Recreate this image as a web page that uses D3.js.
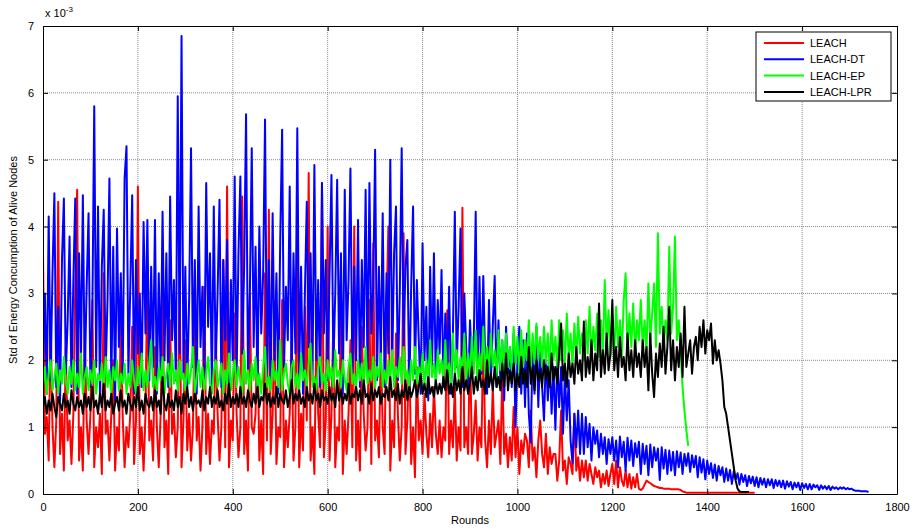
<!DOCTYPE html>
<html lang="en">
<head>
  <meta charset="UTF-8">
  <title>Std of Energy Consumption</title>
  <script src="https://d3js.org/d3.v7.min.js"></script>
  <style>
    body { margin: 0; background: #fff; font-family: "Liberation Sans", Arial, sans-serif; }
    .axis text { font-size: 11px; fill: #000; font-family: "Liberation Sans", Arial, sans-serif; }
    .axis path, .axis line { stroke: #000; }
    .grid line { stroke: #888; stroke-dasharray: 1,1; }
  </style>
</head>
<body>
  <div id="chart"></div>
  <script>
    // rounds between two samples
    const step = 4;
    const xTicks = [0, 200, 400, 600, 800, 1000, 1200, 1400, 1600, 1800];
    const yTicks = [0, 1, 2, 3, 4, 5, 6, 7];
    const seriesNames = ["LEACH", "LEACH-DT", "LEACH-EP", "LEACH-LPR"];
    const seriesColors = ["#ff0000", "#0000ff", "#00ff00", "#000000"];

    // values in units of 1e-3, one every 4 rounds (each row = 60 rounds)
    const leach = [
      3.6, 0.9, 1.15, 0.5, 2.6, 1.0, 0.4, 1.1, 4.37, 0.6, 1.2, 0.35, 2.2, 0.8, 1.1,
      0.45, 1.2, 3.15, 4.55, 0.5, 1.0, 0.35, 2.4, 1.1, 0.6, 1.2, 2.9, 0.4, 1.0, 0.7,
      1.2, 0.3, 3.3, 0.9, 1.1, 0.5, 1.2, 2.0, 0.35, 1.0, 0.65, 2.7, 1.15, 0.4, 1.0,
      0.7, 1.2, 2.5, 0.45, 1.1, 4.6, 0.6, 1.0, 0.35, 1.2, 3.4, 0.8, 1.1, 0.5, 2.2,
      1.0, 0.4, 1.2, 3.0, 0.7, 1.1, 0.3, 2.6, 0.9, 1.2, 0.55, 1.0, 3.2, 0.4, 1.1,
      2.3, 0.65, 1.2, 0.5, 1.0, 2.8, 0.8, 1.15, 0.35, 1.0, 3.1, 0.6, 1.2, 0.45, 1.1,
      0.9, 2.4, 1.2, 0.5, 1.0, 3.5, 0.7, 4.6, 0.4, 1.1, 0.8, 2.7, 1.2, 0.55, 1.0,
      4.45, 0.6, 1.1, 0.35, 3.0, 1.0, 0.9, 1.2, 2.5, 0.5, 1.1, 0.3, 3.3, 0.8, 4.25,
      0.6, 1.2, 2.6, 0.45, 1.0, 0.85, 2.9, 0.4, 1.1, 0.7, 1.2, 2.3, 0.5, 1.0, 3.75,
      0.4, 1.2, 0.65, 2.8, 1.1, 4.8, 0.5, 1.0, 0.3, 2.4, 1.2, 0.7, 4.65, 0.55, 1.1,
      4.0, 0.5, 1.2, 2.6, 0.4, 1.0, 0.8, 2.9, 0.3, 1.1, 0.6, 1.2, 2.3, 0.7, 4.0,
      0.5, 1.1, 0.35, 2.5, 1.2, 0.65, 1.0, 2.9, 0.45, 3.75, 0.8, 1.1, 0.55, 2.2, 1.0,
      0.6, 2.8, 4.0, 0.35, 1.1, 0.7, 2.4, 1.2, 0.5, 1.0, 3.9, 0.6, 1.1, 2.2, 0.45,
      1.0, 0.25, 1.9, 0.8, 1.1, 0.6, 1.5, 0.9, 0.55, 1.2, 0.7, 1.6, 0.9, 0.6, 1.1,
      0.55, 1.0, 0.8, 2.75, 0.6, 1.1, 0.7, 1.6, 0.5, 1.0, 0.65, 4.28, 0.7, 1.0, 0.6,
      2.3, 0.6, 0.9, 1.4, 0.5, 1.0, 0.7, 2.4, 0.8, 0.4, 1.1, 0.6, 1.6, 0.7, 0.9,
      1.1, 0.45, 1.8, 0.6, 0.9, 0.4, 0.85, 0.5, 1.3, 0.55, 1.0, 0.3, 0.8, 0.6, 0.9,
      0.8, 0.4, 1.25, 0.5, 0.7, 0.25, 0.8, 1.1, 0.6, 0.4, 0.9, 0.3, 0.7, 0.45, 0.6,
      0.6, 0.2, 0.5, 1.25, 0.35, 0.5, 0.15, 0.55, 0.45, 0.3, 1.2, 0.35, 0.55, 0.2, 0.5,
      0.25, 0.5, 0.2, 0.45, 0.3, 0.15, 0.4, 0.25, 0.35, 0.1, 0.3, 0.15, 0.35, 0.12, 0.3,
      0.45, 0.15, 0.5, 0.1, 0.4, 0.2, 0.12, 0.35, 0.1, 0.3, 0.08, 0.25, 0.1, 0.3, 0.08,
      0.06, 0.08, 0.14, 0.2, 0.18, 0.16, 0.14, 0.12, 0.11, 0.1, 0.09, 0.09, 0.08, 0.08, 0.08,
      0.08, 0.07, 0.07, 0.07, 0.07, 0.07, 0.06, 0.04, 0.03, 0.02, 0.02, 0.02, 0.02, 0.02, 0.02,
      0.02, 0.02, 0.02, 0.02, 0.02, 0.02, 0.02, 0.02, 0.02, 0.02, 0.02, 0.02, 0.02, 0.02, 0.02,
      0.02, 0.02, 0.02, 0.02, 0.02, 0.02, 0.02, 0.02, 0.02, 0.02, 0.02, 0.02, 0.02, 0.02, 0.02,
      0.02
    ];

    const leachDT = [
      1.9, 3.0, 1.5, 4.15, 1.7, 3.3, 4.5, 1.6, 2.8, 1.4, 3.5, 4.42, 1.8, 2.6, 3.85,
      1.6, 3.2, 4.42, 1.5, 3.6, 2.0, 4.47, 1.7, 3.1, 4.2, 1.6, 2.7, 5.8, 1.9, 4.3,
      1.5, 3.4, 4.25, 1.8, 2.9, 4.72, 1.6, 3.7, 1.4, 3.97, 2.2, 3.3, 1.7, 4.72, 5.2,
      1.8, 3.1, 4.47, 1.5, 3.5, 2.1, 3.0, 1.6, 4.07, 2.4, 4.1, 1.7, 3.4, 1.9, 4.1,
      1.5, 3.3, 1.8, 4.22, 2.0, 3.6, 1.6, 4.45, 2.3, 3.2, 1.7, 5.95, 2.1, 6.85, 1.8,
      3.4, 1.6, 2.9, 5.17, 1.9, 3.5, 1.5, 4.3, 2.2, 3.1, 1.7, 4.65, 2.5, 3.6, 1.6,
      4.3, 1.9, 3.0, 4.4, 1.6, 3.5, 2.3, 3.8, 1.5, 3.2, 2.0, 4.75, 1.7, 3.6, 4.75,
      2.1, 3.4, 5.68, 1.8, 3.0, 5.17, 2.2, 3.7, 1.6, 4.0, 2.4, 3.3, 5.6, 1.7, 3.5,
      1.6, 4.2, 2.0, 3.3, 1.5, 3.8, 5.45, 1.9, 3.1, 2.3, 4.6, 1.7, 3.6, 2.1, 5.47,
      1.8, 3.4, 1.5, 3.0, 4.37, 2.2, 3.6, 1.7, 4.92, 2.0, 3.2, 1.6, 4.65, 2.4, 3.5,
      1.7, 3.3, 4.77, 1.9, 3.0, 4.7, 2.1, 3.6, 1.5, 4.55, 2.3, 3.2, 4.87, 1.8, 3.4,
      2.0, 4.1, 1.6, 3.5, 2.2, 4.55, 1.8, 4.65, 2.4, 3.1, 5.15, 1.7, 3.4, 2.0, 4.2,
      1.6, 3.3, 2.1, 5.0, 1.9, 3.6, 4.3, 1.7, 3.0, 5.17, 2.2, 3.4, 3.8, 1.5, 3.1,
      4.3, 1.8, 3.2, 2.3, 1.5, 3.75, 2.0, 2.8, 1.4, 3.4, 1.9, 3.6, 1.6, 2.9, 2.1,
      3.35, 1.6, 2.7, 1.8, 3.1, 1.5, 2.4, 4.22, 1.9, 2.8, 3.97, 1.6, 3.0, 2.2, 1.5,
      2.6, 1.9, 2.3, 4.22, 1.6, 3.25, 1.8, 3.26, 2.0, 1.5, 2.9, 1.7, 2.5, 3.26, 1.6,
      2.6, 1.7, 2.3, 1.4, 2.5, 1.8, 2.2, 1.6, 2.4, 1.0, 2.0, 2.5, 1.5, 2.3, 1.3,
      2.4, 1.2, 0.77, 2.2, 1.5, 2.5, 1.3, 2.2, 1.6, 1.1, 2.1, 1.4, 2.0, 1.2, 1.9,
      0.96, 2.0, 1.3, 1.9, 0.9, 1.8, 1.1, 1.7, 0.8, 0.46, 1.2, 0.7, 1.25, 0.6, 1.2,
      0.6, 1.15, 0.7, 1.05, 0.5, 1.0, 0.75, 0.95, 0.55, 0.9, 0.6, 0.85, 0.45, 0.82, 0.6,
      0.85, 0.5, 0.8, 0.4, 0.86, 0.55, 0.78, 0.35, 0.84, 0.5, 0.8, 0.42, 0.76, 0.55, 0.78,
      0.3, 0.75, 0.45, 0.72, 0.28, 0.74, 0.4, 0.7, 0.5, 0.68, 0.21, 0.7, 0.38, 0.66, 0.3,
      0.65, 0.35, 0.63, 0.28, 0.64, 0.4, 0.62, 0.3, 0.6, 0.42, 0.61, 0.33, 0.58, 0.4, 0.57,
      0.25, 0.55, 0.32, 0.52, 0.22, 0.5, 0.3, 0.46, 0.24, 0.44, 0.2, 0.42, 0.28, 0.4, 0.18,
      0.38, 0.2, 0.36, 0.15, 0.34, 0.22, 0.31, 0.14, 0.3, 0.18, 0.28, 0.12, 0.27, 0.16, 0.26,
      0.12, 0.25, 0.1, 0.24, 0.14, 0.23, 0.1, 0.22, 0.13, 0.22, 0.09, 0.21, 0.12, 0.2, 0.1,
      0.2, 0.08, 0.19, 0.11, 0.18, 0.07, 0.17, 0.1, 0.17, 0.06, 0.16, 0.09, 0.15, 0.07, 0.15,
      0.07, 0.14, 0.1, 0.13, 0.06, 0.13, 0.08, 0.12, 0.07, 0.12, 0.06, 0.11, 0.08, 0.1, 0.07,
      0.1, 0.08, 0.1, 0.07, 0.09, 0.07, 0.08, 0.06, 0.05, 0.05, 0.05, 0.04, 0.04, 0.04, 0.04,
      0.03
    ];

    const leachEP = [
      1.6, 1.9, 1.5, 1.8, 2.0, 1.55, 1.75, 1.95, 1.5, 1.85, 1.65, 2.05, 1.7, 1.5, 1.9,
      1.65, 2.0, 1.55, 1.8, 1.6, 2.1, 1.5, 1.75, 1.9, 1.55, 1.85, 1.65, 2.0, 1.5, 1.8,
      1.7, 1.95, 1.55, 2.05, 1.6, 1.85, 1.5, 1.9, 1.7, 2.0, 1.55, 1.8, 1.65, 1.95, 1.5,
      1.8, 1.6, 2.0, 1.7, 1.5, 1.9, 1.65, 2.1, 1.55, 1.85, 1.6, 1.95, 2.3, 1.6, 1.75,
      1.55, 1.9, 1.7, 2.05, 1.5, 1.8, 1.95, 1.6, 2.1, 1.65, 1.85, 1.55, 2.0, 1.7, 1.8,
      1.55, 1.95, 1.65, 1.85, 2.2, 1.5, 1.75, 2.0, 1.6, 1.9, 1.55, 1.8, 2.05, 1.65, 1.5,
      1.85, 2.0, 1.6, 1.75, 1.95, 1.5, 1.85, 1.65, 2.1, 1.55, 1.8, 2.0, 1.6, 1.9, 1.7,
      1.5, 2.15, 1.65, 1.85, 1.55, 1.95, 1.7, 2.05, 1.6, 1.8, 1.5, 1.9, 2.2, 1.6, 1.75,
      1.55, 2.0, 1.7, 1.85, 1.6, 2.3, 1.55, 1.8, 1.95, 1.65, 1.5, 1.9, 2.0, 1.6, 1.8,
      1.55, 2.1, 1.7, 1.85, 1.6, 1.95, 2.25, 1.6, 1.75, 1.55, 1.9, 2.05, 1.65, 1.8, 1.55,
      2.0, 1.7, 1.9, 1.6, 2.15, 1.75, 1.85, 1.6, 2.0, 1.7, 1.55, 1.9, 2.1, 1.65, 1.8,
      1.6, 2.0, 1.7, 1.95, 1.55, 2.2, 1.65, 1.85, 1.7, 2.05, 1.6, 1.9, 1.75, 2.1, 1.6,
      1.85, 1.65, 2.0, 1.7, 2.15, 1.6, 1.9, 1.75, 2.05, 1.65, 2.2, 1.7, 1.85, 1.6, 2.0,
      1.7, 2.2, 1.65, 1.9, 1.75, 2.1, 1.6, 2.0, 1.7, 2.3, 1.75, 1.95, 1.65, 2.15, 1.8,
      2.0, 1.7, 2.3, 1.75, 1.95, 1.65, 2.4, 1.8, 2.15, 1.7, 2.05, 1.8, 2.4, 1.7, 2.1,
      1.75, 2.35, 1.8, 2.45, 1.7, 2.1, 1.85, 2.5, 1.75, 2.2, 1.8, 2.4, 1.9, 2.15, 1.75,
      2.45, 1.85, 2.3, 1.8, 2.4, 1.9, 2.2, 1.85, 2.5, 1.95, 2.35, 1.8, 2.45, 1.9, 2.3,
      2.0, 2.6, 1.85, 2.4, 1.95, 2.55, 2.0, 2.35, 1.9, 2.5, 1.95, 2.4, 1.85, 2.6, 2.0,
      2.35, 1.9, 2.6, 2.0, 2.45, 1.95, 2.7, 2.05, 2.4, 1.9, 2.55, 2.0, 2.65, 2.1, 2.4,
      2.0, 2.6, 2.1, 2.8, 2.0, 2.5, 2.15, 2.7, 2.05, 2.6, 2.1, 3.2, 2.2, 2.75, 2.05,
      2.5, 2.1, 2.8, 2.2, 2.6, 2.05, 2.9, 3.3, 2.1, 2.7, 2.2, 2.85, 2.1, 2.6, 2.3,
      2.9, 2.2, 2.6, 2.1, 3.15, 2.3, 2.7, 3.15, 2.2, 3.9, 2.4, 2.8, 2.2, 2.6, 2.3,
      3.7, 2.4, 2.8, 3.85, 2.3, 2.6, 2.1, 1.6, 1.25, 0.95, 0.72
    ];

    const leachLPR = [
      1.3, 1.45, 1.2, 1.4, 1.25, 1.5, 1.3, 1.15, 1.45, 1.35, 1.25, 1.5, 1.3, 1.4, 1.2,
      1.55, 1.35, 1.25, 1.45, 1.3, 1.4, 1.2, 1.5, 1.3, 1.45, 1.25, 1.6, 1.3, 1.4, 1.2,
      1.5, 1.3, 1.65, 1.25, 1.4, 1.3, 1.5, 1.2, 1.35, 1.45, 1.25, 1.55, 1.3, 1.4, 1.2,
      1.5, 1.35, 1.25, 1.45, 1.3, 1.6, 1.25, 1.4, 1.2, 1.5, 1.35, 1.3, 1.45, 1.25, 1.55,
      1.3, 1.4, 1.2, 1.75, 1.35, 1.25, 1.5, 1.3, 1.4, 1.25, 1.55, 1.3, 1.45, 1.2, 1.5,
      1.35, 1.6, 1.3, 1.45, 1.25, 1.5, 1.35, 1.4, 1.3, 1.55, 1.25, 1.45, 1.35, 1.6, 1.3,
      1.45, 1.35, 1.55, 1.3, 1.4, 1.25, 1.5, 1.35, 1.65, 1.3, 1.45, 1.35, 1.5, 1.3, 1.6,
      1.35, 1.45, 1.3, 1.55, 1.4, 1.3, 1.5, 1.35, 1.6, 1.3, 1.45, 1.4, 1.65, 1.35, 1.5,
      1.3, 1.45, 1.35, 1.6, 1.3, 1.5, 1.4, 1.35, 1.55, 1.3, 1.45, 1.7, 1.35, 1.5, 1.4,
      1.55, 1.35, 1.45, 1.3, 1.6, 1.4, 1.5, 1.35, 1.65, 1.4, 1.5, 1.3, 1.55, 1.4, 1.45,
      1.35, 1.6, 1.4, 1.5, 1.3, 1.7, 1.4, 1.55, 1.35, 1.5, 1.4, 1.65, 1.35, 1.5, 1.45,
      1.6, 1.4, 1.55, 1.35, 1.7, 1.45, 1.5, 1.35, 1.65, 1.4, 1.55, 1.45, 1.6, 1.35, 1.5,
      1.45, 1.6, 1.4, 1.75, 1.45, 1.55, 1.4, 1.65, 1.35, 1.55, 1.45, 1.7, 1.4, 1.6, 1.45,
      1.55, 1.7, 1.45, 1.6, 1.8, 1.5, 1.65, 1.45, 1.75, 1.5, 1.6, 1.45, 1.7, 1.5, 1.65,
      1.5, 1.75, 1.55, 1.85, 1.5, 1.65, 1.45, 1.8, 1.55, 1.7, 1.5, 1.9, 1.55, 1.7, 1.5,
      1.65, 1.9, 1.5, 1.75, 1.55, 1.85, 1.6, 1.7, 1.5, 2.0, 1.6, 1.8, 1.55, 1.9, 1.6,
      1.75, 1.55, 1.95, 1.6, 2.1, 1.55, 1.85, 1.65, 1.95, 1.55, 1.8, 1.6, 2.05, 1.65, 1.85,
      1.6, 2.2, 1.65, 1.9, 1.55, 2.0, 1.7, 1.85, 1.6, 2.0, 1.7, 1.9, 1.6, 2.1, 1.7,
      1.9, 1.65, 2.1, 2.55, 1.7, 1.95, 1.6, 2.1, 1.75, 1.95, 1.65, 2.2, 1.8, 2.0, 1.7,
      2.58, 1.75, 2.05, 1.8, 2.3, 1.7, 2.1, 1.85, 2.85, 1.75, 2.15, 1.8, 2.4, 1.85, 2.1,
      2.9, 1.85, 2.2, 1.75, 2.35, 1.9, 2.05, 1.7, 2.4, 1.85, 2.15, 1.75, 2.3, 1.9, 2.1,
      1.75, 2.3, 1.9, 2.2, 1.55, 2.4, 1.8, 1.45, 2.1, 1.75, 2.25, 1.9, 2.5, 1.8, 2.2,
      2.8, 1.85, 2.3, 1.7, 2.2, 1.9, 2.4, 1.75, 2.8, 1.9, 2.1, 2.3, 1.8, 2.2, 2.35,
      2.0, 2.5, 2.2, 2.6, 2.1, 2.45, 2.3, 2.55, 1.95, 2.3, 2.0, 2.15, 1.95, 1.7, 1.3,
      1.2, 1.0, 0.8, 0.6, 0.4, 0.2, 0.08, 0.04, 0.03, 0.03, 0.03, 0.03, 0.03
    ];

    const allSeries = [leach, leachDT, leachEP, leachLPR];

    const margin = {top: 26, right: 14, bottom: 34, left: 43},
          W = 911, H = 528,
          width = W - margin.left - margin.right,
          height = H - margin.top - margin.bottom;

    const svgRoot = d3.select("#chart").append("svg")
      .attr("width", W).attr("height", H);
    const svg = svgRoot.append("g")
      .attr("transform", `translate(${margin.left},${margin.top})`);

    const x = d3.scaleLinear().domain([0, 1800]).range([0, width]);
    const y = d3.scaleLinear().domain([0, 7]).range([height, 0]);

    // grid
    svg.append("g").attr("class", "grid")
      .selectAll("line").data(xTicks.slice(1, -1)).enter().append("line")
      .attr("x1", d => x(d)).attr("x2", d => x(d))
      .attr("y1", 0).attr("y2", height);
    svg.append("g").attr("class", "grid")
      .selectAll("line").data(yTicks.slice(1, -1)).enter().append("line")
      .attr("x1", 0).attr("x2", width)
      .attr("y1", d => y(d)).attr("y2", d => y(d));

    svg.append("clipPath").attr("id", "clip")
      .append("rect").attr("width", width).attr("height", height);

    const line = d3.line()
      .x((d, i) => x(i * step))
      .y(d => y(d));

    svg.append("g").attr("clip-path", "url(#clip)")
      .selectAll("path").data(allSeries).enter().append("path")
      .attr("d", d => line(d))
      .attr("fill", "none")
      .attr("stroke", (d, i) => seriesColors[i])
      .attr("stroke-width", 2)
      .attr("stroke-linejoin", "round");

    // axes: ticks inward, box all round
    const fmt = d3.format("d");
    svg.append("g").attr("class", "axis")
      .attr("transform", `translate(0,${height})`)
      .call(d3.axisBottom(x).tickValues(xTicks).tickFormat(fmt)
        .tickSizeInner(-5).tickSizeOuter(0).tickPadding(9));
    svg.append("g").attr("class", "axis")
      .call(d3.axisTop(x).tickValues(xTicks).tickFormat("")
        .tickSizeInner(-5).tickSizeOuter(0));
    svg.append("g").attr("class", "axis")
      .call(d3.axisLeft(y).tickValues(yTicks).tickFormat(fmt)
        .tickSizeInner(-5).tickSizeOuter(0).tickPadding(9));
    svg.append("g").attr("class", "axis")
      .attr("transform", `translate(${width},0)`)
      .call(d3.axisRight(y).tickValues(yTicks).tickFormat("")
        .tickSizeInner(-5).tickSizeOuter(0));

    // exponent label
    const ex = svg.append("text").attr("x", 2).attr("y", -9)
      .style("font-size", "11px");
    ex.append("tspan").text("x 10");
    ex.append("tspan").attr("dy", -5).style("font-size", "8px").text("-3");

    svg.append("text")
      .attr("x", width / 2).attr("y", height + 30)
      .attr("text-anchor", "middle")
      .style("font-size", "11px")
      .text("Rounds");

    svg.append("text")
      .attr("transform", `translate(-26,${height / 2}) rotate(-90)`)
      .attr("text-anchor", "middle")
      .style("font-size", "11px")
      .text("Std of Energy Concumption of Alive Nodes");

    // legend
    const lg = svgRoot.append("g").attr("transform", "translate(756,32)");
    lg.append("rect").attr("width", 135).attr("height", 69)
      .attr("fill", "#fff").attr("stroke", "#000");
    seriesNames.forEach((name, i) => {
      const yy = 11 + i * 16.3;
      lg.append("line").attr("x1", 8).attr("x2", 48)
        .attr("y1", yy).attr("y2", yy)
        .attr("stroke", seriesColors[i]).attr("stroke-width", 2);
      lg.append("text").attr("x", 54).attr("y", yy + 4)
        .style("font-size", "11px").text(name);
    });
  </script>
</body>
</html>
